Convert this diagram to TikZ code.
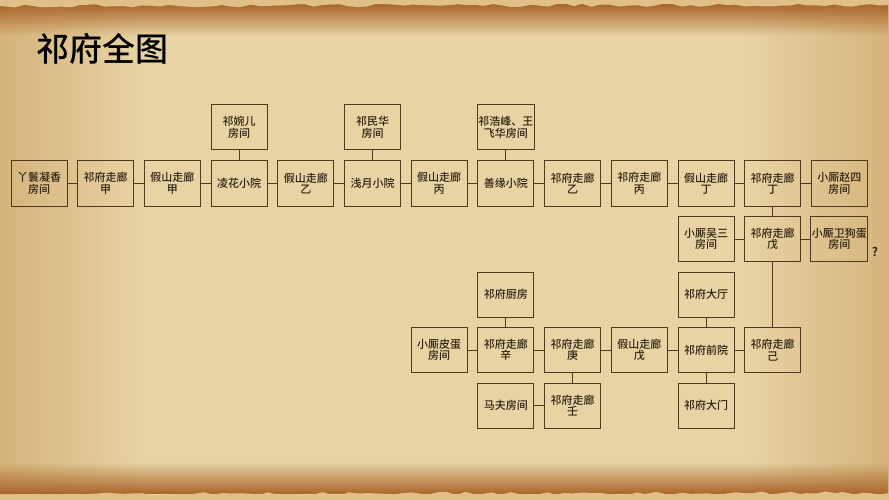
\documentclass[tikz,border=0pt]{standalone}
\usepackage{fontspec}
\setmainfont{Noto Sans CJK SC Medium}
\newfontfamily\cjktitle{Noto Sans CJK SC Medium}
\newfontfamily\cjkbold{Noto Sans CJK SC Bold}
\usetikzlibrary{decorations.pathmorphing,fadings}
\definecolor{parch}{HTML}{E7D3A4}
\definecolor{parchedge}{HTML}{D6B47C}
\definecolor{burnt}{HTML}{A9662A}
\definecolor{rim}{HTML}{E0BF88}
\definecolor{boxline}{HTML}{4F3A1E}
\definecolor{ink}{HTML}{2E2210}
\tikzset{
  room/.style={draw=boxline, line width=1pt, minimum width=56pt, minimum height=45pt,
    inner sep=1pt, align=center, font=\fontsize{11}{11.5}\selectfont, text=ink},
  link/.style={draw=boxline, line width=0.9pt},
}
\begin{document}
\begin{tikzpicture}[x=1pt,y=-1pt]
\useasboundingbox (0,0) rectangle (889,500);
% background
\fill[parch] (0,0) rectangle (889,500);
\fill[parchedge, path fading=east] (0,0) rectangle (140,500);
\fill[parchedge, path fading=west] (749,0) rectangle (889,500);
\fill[burnt, path fading=south] (0,4) rectangle (889,36);
\fill[burnt, path fading=north] (0,462) rectangle (889,494);
\pgfmathsetseed{7}
\fill[rim] (0,0) -- (889,0) -- (889,5)
  decorate[decoration={random steps,segment length=9pt,amplitude=1.6pt}]{ -- (0,6)} -- cycle;
\fill[rim] (0,500) -- (889,500) -- (889,493)
  decorate[decoration={random steps,segment length=9pt,amplitude=1.6pt}]{ -- (0,494)} -- cycle;
% title
\node[font=\cjktitle\fontsize{33}{33}\selectfont, text=black, anchor=center] (title) at (102,49) {祁府全图};
% rows
\def\ra{127.5}\def\rb{183.5}\def\rc{239}\def\rd{294.5}\def\re{350}\def\rf{405.5}
% top main row
\node[room] (a0) at (39,\rb) {丫鬟凝香\\房间};
\node[room] (a1) at (105.7,\rb) {祁府走廊\\甲};
\node[room] (a2) at (172.4,\rb) {假山走廊\\甲};
\node[room] (a3) at (239.1,\rb) {凌花小院};
\node[room] (a4) at (305.8,\rb) {假山走廊\\乙};
\node[room] (a5) at (372.5,\rb) {浅月小院};
\node[room] (a6) at (439.2,\rb) {假山走廊\\丙};
\node[room] (a7) at (505.9,\rb) {善缘小院};
\node[room] (a8) at (572.6,\rb) {祁府走廊\\乙};
\node[room] (a9) at (639.3,\rb) {祁府走廊\\丙};
\node[room] (a10) at (706,\rb) {假山走廊\\丁};
\node[room] (a11) at (772.7,\rb) {祁府走廊\\丁};
\node[room] (a12) at (839.4,\rb) {小厮赵四\\房间};
% top side rooms
\node[room] (t3) at (239.1,\ra) {祁婉儿\\房间};
\node[room] (t5) at (372.5,\ra) {祁民华\\房间};
\node[room] (t7) at (505.9,\ra) {祁浩峰、王\\飞华房间};
% third row
\node[room] (b10) at (706,\rc) {小厮吴三\\房间};
\node[room] (b11) at (772.7,\rc) {祁府走廊\\戊};
\node[room] (b12) at (839.4,\rc) {小厮卫狗蛋\\房间};
\node[font=\cjkbold\fontsize{12}{12}\selectfont, text=ink] (q) at (875,252) {?};
% lower block
\node[room] (k7) at (505.9,\rd) {祁府厨房};
\node[room] (h10) at (706,\rd) {祁府大厅};
\node[room] (m6) at (439.2,\re) {小厮皮蛋\\房间};
\node[room] (m7) at (505.9,\re) {祁府走廊\\辛};
\node[room] (m8) at (572.6,\re) {祁府走廊\\庚};
\node[room] (m9) at (639.3,\re) {假山走廊\\戊};
\node[room] (m10) at (706,\re) {祁府前院};
\node[room] (m11) at (772.7,\re) {祁府走廊\\己};
\node[room] (f7) at (505.9,\rf) {马夫房间};
\node[room] (f8) at (572.6,\rf) {祁府走廊\\壬};
\node[room] (f10) at (706,\rf) {祁府大门};
% links
\foreach \i [evaluate=\i as \j using int(\i+1)] in {0,...,11} \draw[link] (a\i) -- (a\j);
\draw[link] (t3) -- (a3);
\draw[link] (t5) -- (a5);
\draw[link] (t7) -- (a7);
\draw[link] (a11) -- (b11);
\draw[link] (b10) -- (b11);
\draw[link] (b11) -- (b12);
\draw[link] (b11) -- (m11);
\draw[link] (m6) -- (m7);
\draw[link] (m7) -- (m8);
\draw[link] (m8) -- (m9);
\draw[link] (m9) -- (m10);
\draw[link] (m10) -- (m11);
\draw[link] (k7) -- (m7);
\draw[link] (m8) -- (f8);
\draw[link] (f7) -- (f8);
\draw[link] (h10) -- (m10);
\draw[link] (m10) -- (f10);
\end{tikzpicture}
\end{document}
